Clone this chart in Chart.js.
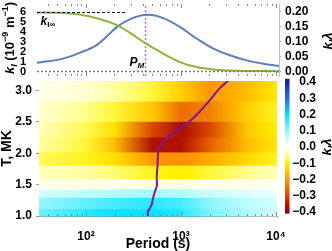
<!DOCTYPE html>
<html>
<head>
<meta charset="utf-8">
<script src="https://cdn.jsdelivr.net/npm/chart.js"></script>
<style>
  body { margin: 0; background: #fff; }
  #top { position: absolute; left: 0; top: 0; }
  #heat { position: absolute; left: 0; top: 70px; }
</style>
</head>
<body>
<canvas id="top" width="332" height="80"></canvas>
<canvas id="heat" width="332" height="181"></canvas>
<script>
// top panel: k_I (left axis, 1e-9 m^-1) and k_I*lambda (right axis) vs period
const greenP = [30.7, 50, 86, 130, 210, 290, 418, 652, 975, 1462, 2172, 3300, 4918, 10770];
const kI     = [5.9, 5.88, 5.7, 5.33, 4.66, 3.88, 2.86, 1.79, 0.94, 0.44, 0.2, 0.1, 0.06, 0.03];
const blueP  = [30.7, 57.7, 86, 130, 165, 210, 290, 452, 652, 975, 1462, 2172, 3281, 4918, 7345, 10770];
const kLam   = [0.029, 0.043, 0.062, 0.088, 0.116, 0.147, 0.174, 0.189, 0.178, 0.149, 0.110, 0.077, 0.054, 0.037, 0.026, 0.018];
const kInf = 5.9;
const kInfEnd = 268;
const pM = 425;

// bottom panel: k_I*lambda heatmap, rows of temperature (MK) x period stops
const periodStops = [32, 100, 200, 500, 1000, 2000, 5000, 10240];
const tEdges = [1.0, 1.12, 1.30, 1.43, 1.59, 1.81, 2.02, 2.26, 2.51, 2.83, 3.15];
const kRows = [
  [0.12, 0.17, 0.19, 0.2, 0.17, 0.11, 0.07, 0.04],
  [0.09, 0.13, 0.15, 0.17, 0.15, 0.1, 0.06, 0.04],
  [0.04, 0.06, 0.07, 0.08, 0.07, 0.05, 0.03, 0.02],
  [-0.01, -0.01, -0.01, -0.015, -0.015, -0.01, -0.01, -0.005],
  [-0.03, -0.04, -0.06, -0.09, -0.1, -0.08, -0.05, -0.03],
  [-0.07, -0.09, -0.12, -0.2, -0.21, -0.18, -0.13, -0.09],
  [-0.04, -0.08, -0.16, -0.36, -0.36, -0.27, -0.16, -0.11],
  [-0.03, -0.07, -0.12, -0.3, -0.37, -0.3, -0.15, -0.1],
  [-0.02, -0.05, -0.08, -0.15, -0.25, -0.23, -0.14, -0.09],
  [-0.01, -0.02, -0.04, -0.08, -0.14, -0.2, -0.16, -0.11]
];
// P_M track (period, T)
const pmPeriod = [449, 449, 492, 507, 532, 559, 555, 566, 577, 611, 707, 865, 1102, 1348, 1704, 2105, 2574, 3124];
const pmT      = [1.0, 1.07, 1.18, 1.28, 1.39, 1.49, 1.6, 1.81, 2.03, 2.13, 2.24, 2.35, 2.45, 2.56, 2.72, 2.88, 3.04, 3.15];
const cbTicks = [-0.4, -0.3, -0.2, -0.1, 0, 0.1, 0.2, 0.3, 0.4];

const cmap = [
  [-0.4, 140, 0, 0], [-0.35, 185, 20, 0], [-0.3, 220, 70, 0], [-0.2, 255, 150, 0],
  [-0.15, 255, 200, 0], [-0.1, 255, 240, 0], [-0.05, 255, 255, 140], [0, 255, 255, 255],
  [0.05, 200, 255, 255], [0.1, 140, 245, 255], [0.2, 0, 225, 255], [0.3, 40, 110, 220], [0.4, 25, 35, 150]
];
function colorOf(v) {
  if (v <= cmap[0][0]) return `rgb(${cmap[0][1]},${cmap[0][2]},${cmap[0][3]})`;
  for (let i = 1; i < cmap.length; i++) {
    if (v <= cmap[i][0]) {
      const a = cmap[i - 1], b = cmap[i], t = (v - a[0]) / (b[0] - a[0]);
      return `rgb(${Math.round(a[1] + t * (b[1] - a[1]))},${Math.round(a[2] + t * (b[2] - a[2]))},${Math.round(a[3] + t * (b[3] - a[3]))})`;
    }
  }
  const l = cmap[cmap.length - 1];
  return `rgb(${l[1]},${l[2]},${l[3]})`;
}
const clamp01 = t => Math.min(1, Math.max(0, t));

const FONT = '"Liberation Sans", Arial, sans-serif';
Chart.defaults.font.family = FONT;
Chart.defaults.color = '#000';

function rich(ctx, parts, cx, cy, rot, size) {
  ctx.save();
  ctx.translate(cx, cy);
  if (rot) ctx.rotate(rot);
  const fontOf = p => (p.it ? 'italic ' : '') + 'bold ' + ((p.sub || p.sup) ? Math.round(size * 0.7) : size) + 'px ' + FONT;
  let w = 0;
  parts.forEach(p => { ctx.font = fontOf(p); p.w = ctx.measureText(p.t).width; w += p.w; });
  let x = -w / 2;
  ctx.fillStyle = '#000';
  ctx.textBaseline = 'alphabetic';
  parts.forEach(p => {
    ctx.font = fontOf(p);
    const dy = p.sub ? size * 0.3 : p.sup ? -size * 0.4 : 0;
    ctx.fillText(p.t, x, size * 0.35 + dy);
    x += p.w;
  });
  ctx.restore();
}

function logTicks(ctx, scale, yEdge, dir) {
  ctx.save();
  ctx.strokeStyle = '#888';
  ctx.lineWidth = 1;
  for (let d = 1; d <= 4; d++) {
    for (let m = 1; m <= 9; m++) {
      const v = m * Math.pow(10, d);
      if (v < scale.min || v > scale.max) continue;
      const x = Math.round(scale.getPixelForValue(v)) + 0.5;
      const len = m === 1 ? 4 : 2;
      ctx.beginPath();
      ctx.moveTo(x, yEdge);
      ctx.lineTo(x, yEdge + dir * len);
      ctx.stroke();
    }
  }
  ctx.restore();
}

function fixBox(w, h) {
  return s => {
    if (w !== null) s.width = w;
    if (h !== null) s.height = h;
    s.paddingTop = 0; s.paddingBottom = 0; s.paddingLeft = 0; s.paddingRight = 0;
  };
}

const kTitle = () => [{ t: 'k', it: 1 }, { t: 'I', it: 1, sub: 1 }, { t: 'λ', it: 1 }];

const topDecor = {
  id: 'topDecor',
  afterDraw(chart) {
    const { ctx, chartArea: a, scales: { x, yl } } = chart;
    logTicks(ctx, x, a.top, 1);
    logTicks(ctx, x, a.bottom, -1);
    // k_I-infinity label
    const lx = x.getPixelForValue(33.5), ly = yl.getPixelForValue(kInf) + 12;
    ctx.save();
    ctx.fillStyle = '#000';
    ctx.textBaseline = 'alphabetic';
    ctx.font = 'italic bold 12px ' + FONT;
    ctx.fillText('k', lx, ly);
    const kw = ctx.measureText('k').width;
    ctx.font = 'bold 8px ' + FONT;
    ctx.fillText('I∞', lx + kw, ly + 2);
    // P_M label
    const px = x.getPixelForValue(pM) - 16, py = yl.getPixelForValue(0) - 6;
    ctx.font = 'italic bold 12px ' + FONT;
    ctx.fillText('P', px, py);
    const pw = ctx.measureText('P').width;
    ctx.font = 'italic bold 8px ' + FONT;
    ctx.fillText('M', px + pw, py + 2);
    ctx.restore();
    rich(ctx, [{ t: 'k', it: 1 }, { t: 'I', it: 1, sub: 1 }, { t: ' (10' }, { t: '−9', sup: 1 }, { t: ' m' }, { t: '−1', sup: 1 }, { t: ')' }],
      9, 38, -Math.PI / 2, 13);
    rich(ctx, kTitle(), 327, 41, -Math.PI / 2, 13);
  }
};

const ylMin = -0.45, ylMax = 6.75;
const line = (pts, color, width, dash, axis) => ({
  data: pts, yAxisID: axis, showLine: true, borderColor: color, borderWidth: width,
  borderDash: dash, pointRadius: 0, cubicInterpolationMode: 'monotone'
});

new Chart(document.getElementById('top'), {
  type: 'scatter',
  data: {
    datasets: [
      line([{ x: greenP[0], y: 0 }, { x: greenP[greenP.length - 1], y: 0 }], '#777', 1.5, [2, 2], 'yl'),
      line([{ x: greenP[0], y: kInf }, { x: kInfEnd, y: kInf }], '#111', 1, [3, 2], 'yl'),
      line(greenP.map((p, i) => ({ x: p, y: kI[i] })), '#8cb43a', 2, [], 'yl'),
      line(blueP.map((p, i) => ({ x: p, y: kLam[i] })), '#5b7ec0', 2, [], 'yr'),
      line([{ x: pM, y: ylMin }, { x: pM, y: ylMax }], '#cc66cc', 1.5, [2, 2], 'yl')
    ]
  },
  options: {
    responsive: false, animation: false, events: [],
    layout: { padding: { top: 4, left: 0, right: 0, bottom: 0 } },
    plugins: { legend: { display: false }, tooltip: { enabled: false } },
    scales: {
      x: {
        type: 'logarithmic', min: 30.7, max: 10770,
        ticks: { display: false }, grid: { display: false }, border: { display: false },
        afterFit: fixBox(null, 4)
      },
      yl: {
        position: 'left', min: ylMin, max: ylMax,
        ticks: { stepSize: 1, includeBounds: false, autoSkip: false, padding: 3, font: { size: 11, weight: 'bold' },
          callback: v => (v >= 0 && v <= 6) ? String(v) : '' },
        grid: { display: false }, border: { display: false },
        afterFit: fixBox(37, null)
      },
      yr: {
        position: 'right', min: -0.015, max: 0.225,
        ticks: { stepSize: 0.05, includeBounds: false, autoSkip: false, padding: 4, font: { size: 12, weight: 'bold' },
          callback: v => (v >= -0.001 && v <= 0.201) ? v.toFixed(2) : '' },
        grid: { display: true, drawOnChartArea: false, tickLength: 2, color: '#aaa' },
        border: { display: true, color: '#bbb' },
        afterFit: fixBox(53, null)
      }
    }
  },
  plugins: [topDecor]
});

const heatDecor = {
  id: 'heatDecor',
  beforeDatasetsDraw(chart) {
    const { ctx, chartArea: a, scales: { x, y } } = chart;
    ctx.save();
    kRows.forEach((row, i) => {
      const y0 = y.getPixelForValue(tEdges[i + 1]);
      const y1 = y.getPixelForValue(tEdges[i]);
      const g = ctx.createLinearGradient(a.left, 0, a.right, 0);
      row.forEach((v, j) => {
        g.addColorStop(clamp01((x.getPixelForValue(periodStops[j]) - a.left) / (a.right - a.left)), colorOf(v));
      });
      ctx.fillStyle = g;
      ctx.fillRect(a.left, Math.max(a.top, y0), a.right - a.left, Math.min(a.bottom, y1) - Math.max(a.top, y0) + 0.5);
    });
    ctx.restore();
  },
  afterDraw(chart) {
    const { ctx, chartArea: a, scales: { x, cb } } = chart;
    logTicks(ctx, x, a.bottom, -1);
    // colour bar
    const yt = cb.getPixelForValue(0.42), yb = cb.getPixelForValue(-0.41);
    const g = ctx.createLinearGradient(0, yb, 0, yt);
    for (let k = 0; k <= 83; k++) {
      g.addColorStop(clamp01(k / 83), colorOf(-0.41 + k * 0.01));
    }
    ctx.fillStyle = g;
    ctx.fillRect(a.right + 8, yt, 4.5, yb - yt);
    rich(ctx, kTitle(), 326, 77, -Math.PI / 2, 13);
  }
};

const supDigits = { 2: '²', 3: '³', 4: '⁴' };

new Chart(document.getElementById('heat'), {
  type: 'scatter',
  data: {
    datasets: [{
      data: pmPeriod.map((p, i) => ({ x: p, y: pmT[i] })),
      showLine: true, borderColor: '#7d1a96', borderWidth: 2, pointRadius: 0, tension: 0.3
    }]
  },
  options: {
    responsive: false, animation: false, events: [],
    layout: { padding: { top: 11, left: 0, right: 16, bottom: 0 } },
    plugins: { legend: { display: false }, tooltip: { enabled: false } },
    scales: {
      x: {
        type: 'logarithmic', min: 32, max: 10245,
        ticks: { autoSkip: false, maxRotation: 0, padding: 5, font: { size: 12, weight: 'bold' },
          callback: v => {
            const e = Math.log10(v);
            return Math.abs(e - Math.round(e)) < 1e-9 && supDigits[Math.round(e)] ? '10' + supDigits[Math.round(e)] : '';
          } },
        grid: { display: false },
        border: { display: true, color: '#888' },
        title: { display: true, text: 'Period (s)', font: { size: 14, weight: 'bold', lineHeight: 1 }, padding: { top: 0, bottom: 0 } },
        afterFit: fixBox(null, 35)
      },
      y: {
        position: 'left', min: 1.0, max: 3.15,
        ticks: { stepSize: 0.5, includeBounds: false, autoSkip: false, padding: 4, font: { size: 12, weight: 'bold' },
          callback: v => v.toFixed(1) },
        grid: { display: true, drawOnChartArea: false, tickLength: 3, color: '#999' },
        border: { display: false },
        title: { display: true, text: 'T, MK', font: { size: 14, weight: 'bold', lineHeight: 1 }, padding: { top: 0, bottom: 0 } },
        afterFit: fixBox(39, null)
      },
      cb: {
        position: 'right', min: -0.4246, max: 0.406,
        afterBuildTicks: s => { s.ticks = cbTicks.map(v => ({ value: v })); },
        ticks: { crossAlign: 'far', autoSkip: false, padding: 16, font: { size: 12, weight: 'bold' },
          callback: v => { const r = Math.round(v * 10) / 10; return (r < 0 ? '−' : '') + Math.abs(r).toFixed(1); } },
        grid: { display: false }, border: { display: false },
        afterFit: fixBox(39, null)
      }
    }
  },
  plugins: [heatDecor]
});
</script>
</body>
</html>
